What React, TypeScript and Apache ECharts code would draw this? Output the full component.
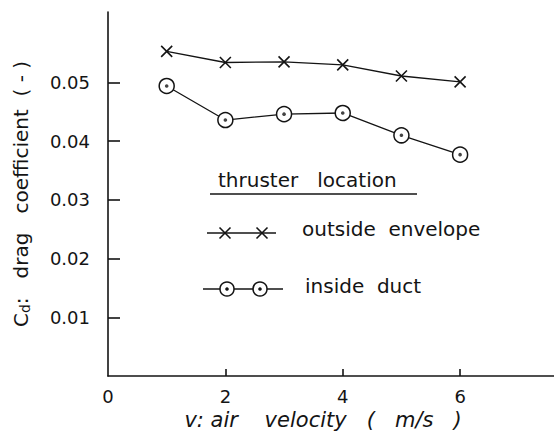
import React, { useEffect, useRef } from "react";
import * as echarts from "echarts";

const velocity = [1, 2, 3, 4, 5, 6];
const outsideEnvelope = [0.0553, 0.0534, 0.0535, 0.053, 0.0511, 0.0501];
const insideDuct = [0.0494, 0.0436, 0.0446, 0.0448, 0.041, 0.0377];
const xTickValues = [2, 4, 6];
const xLabelValues = [0, 2, 4, 6];
const yTickValues = [0.01, 0.02, 0.03, 0.04, 0.05];

const legendTitle = "thruster   location";
const outsideName = "outside  envelope";
const insideName = "inside  duct";

const FONT = "DejaVu Sans";
const INK = "#141414";

export default function App() {
  const ref = useRef<HTMLDivElement>(null);

  useEffect(() => {
    if (!ref.current) return;
    const chart = echarts.init(ref.current, null, { renderer: "svg" });
    const pair = (ys: number[]) => velocity.map((v, i) => [v, ys[i]]);

    const cross = (cx: number, cy: number, h: number) => [
      { type: "line", shape: { x1: cx - h, y1: cy - h, x2: cx + h, y2: cy + h }, style: { stroke: INK, lineWidth: 1.6 } },
      { type: "line", shape: { x1: cx + h, y1: cy - h, x2: cx - h, y2: cy + h }, style: { stroke: INK, lineWidth: 1.6 } },
    ];
    const dotCircle = (cx: number, cy: number) => [
      { type: "circle", shape: { cx, cy, r: 7 }, style: { fill: "#fff", stroke: INK, lineWidth: 1.5 }, z: 10 },
      { type: "circle", shape: { cx, cy, r: 1.8 }, style: { fill: INK }, z: 11 },
    ];

    chart.setOption({
      animation: false,
      backgroundColor: "#fff",
      textStyle: { fontFamily: FONT, color: INK },
      grid: { left: 108, right: 0, top: 12, bottom: 65 },
      xAxis: {
        type: "value",
        min: 0,
        max: 7.6,
        interval: 2,
        name: "v: air    velocity   (   m/s   )",
        nameLocation: "middle",
        nameGap: 26,
        nameTextStyle: { fontFamily: FONT, fontSize: 21, fontStyle: "italic", color: INK, padding: [0, 16, 0, 0] },
        axisLine: { lineStyle: { color: INK, width: 1.6 } },
        axisTick: { inside: true, length: 7, customValues: xTickValues, lineStyle: { color: INK, width: 1.6 } },
        axisLabel: { customValues: xLabelValues, margin: 11, fontSize: 18, color: INK, fontFamily: FONT },
        splitLine: { show: false },
      },
      yAxis: {
        type: "value",
        min: 0,
        max: 0.062,
        name: "C{sub|d}:   drag   coefficient  ( - )",
        nameLocation: "middle",
        nameGap: 76,
        nameTextStyle: {
          fontFamily: FONT,
          fontSize: 20,
          color: INK,
          rich: { sub: { fontFamily: FONT, fontSize: 14, color: INK, padding: [8, 0, 0, 0] } },
        },
        axisLine: { show: true, lineStyle: { color: INK, width: 1.6 } },
        axisTick: { show: true, inside: true, length: 12, customValues: yTickValues, lineStyle: { color: INK, width: 1.6 } },
        axisLabel: { customValues: yTickValues, margin: 18, fontSize: 18, color: INK, fontFamily: FONT, formatter: (v: number) => v.toFixed(2) },
        splitLine: { show: false },
      },
      series: [
        {
          name: "outside envelope",
          type: "line",
          data: pair(outsideEnvelope),
          symbol: "path://M0,0L10,10M10,0L0,10",
          symbolSize: 11,
          showAllSymbol: true,
          lineStyle: { color: INK, width: 1.3 },
          itemStyle: { color: INK, borderColor: INK, borderWidth: 1.6 },
          z: 3,
        },
        {
          name: "inside duct",
          type: "line",
          data: pair(insideDuct),
          symbol: "circle",
          symbolSize: 15,
          showAllSymbol: true,
          lineStyle: { color: INK, width: 1.3 },
          itemStyle: { color: "#fff", borderColor: INK, borderWidth: 1.5 },
          z: 3,
        },
        {
          name: "inside duct centre",
          type: "scatter",
          data: pair(insideDuct),
          symbol: "circle",
          symbolSize: 3.6,
          itemStyle: { color: INK },
          z: 5,
        },
      ],
      graphic: [
        { type: "text", left: 218, top: 170, style: { text: legendTitle, fontFamily: FONT, fontSize: 20, fill: INK } },
        { type: "line", shape: { x1: 210, y1: 194, x2: 417, y2: 194 }, style: { stroke: INK, lineWidth: 1.5 } },
        { type: "line", shape: { x1: 207, y1: 233, x2: 276, y2: 233 }, style: { stroke: INK, lineWidth: 1.3 } },
        ...cross(225, 233, 5.5),
        ...cross(262, 233, 5.5),
        { type: "text", left: 302, top: 219, style: { text: outsideName, fontFamily: FONT, fontSize: 20, fill: INK } },
        { type: "line", shape: { x1: 203, y1: 289, x2: 283, y2: 289 }, style: { stroke: INK, lineWidth: 1.3 } },
        ...dotCircle(227, 289),
        ...dotCircle(260, 289),
        { type: "text", left: 305, top: 276, style: { text: insideName, fontFamily: FONT, fontSize: 20, fill: INK } },
      ],
    });
    return () => chart.dispose();
  }, []);

  return <div ref={ref} style={{ position: "fixed", left: 0, top: 0, width: 554, height: 441 }} />;
}
